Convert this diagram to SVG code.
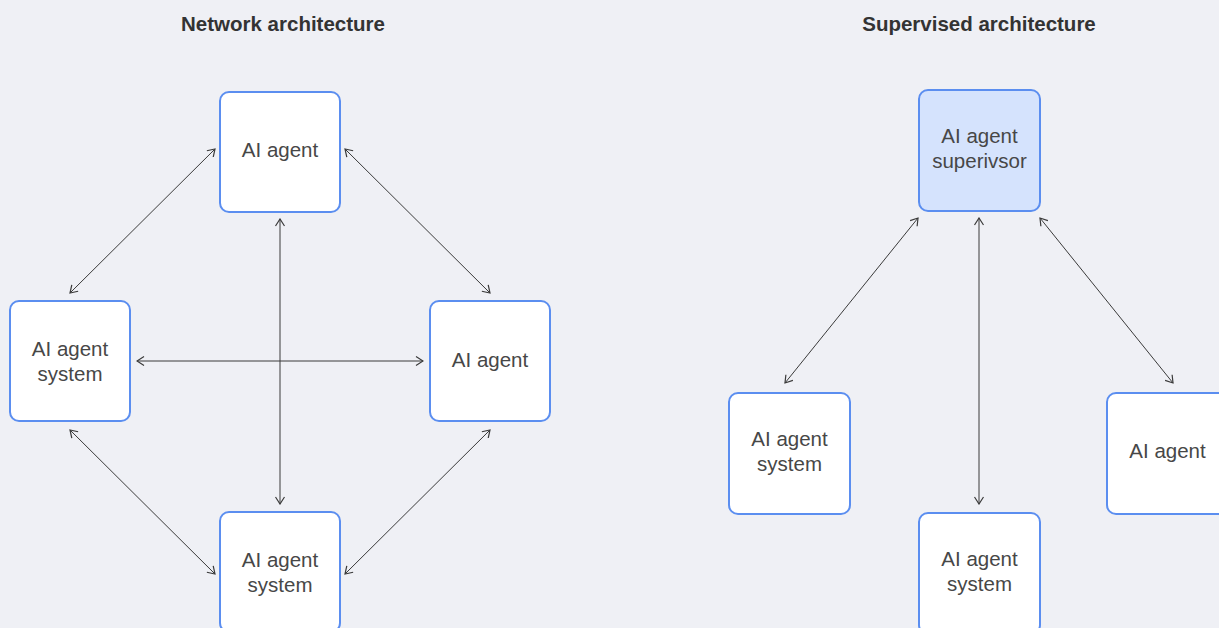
<svg xmlns="http://www.w3.org/2000/svg" width="1219" height="628" viewBox="0 0 1219 628">
  <style>
    .title { font-family: "Liberation Sans", Arial, sans-serif; font-size: 20.5px; font-weight: bold; fill: #333333; text-anchor: middle; }
    .box { fill: #ffffff; stroke: #5b8ef0; stroke-width: 2; }
    .box.sup { fill: #d5e3fd; }
    .label { font-family: "Liberation Sans", Arial, sans-serif; font-size: 20.5px; fill: #474747; text-anchor: middle; }
    .link { stroke: #3a3a3a; stroke-width: 1; fill: none; marker-start: url(#head); marker-end: url(#head); }
  </style>
  <defs>
    <marker id="head" viewBox="0 0 10 10" refX="9" refY="5" markerWidth="10" markerHeight="10" markerUnits="userSpaceOnUse" orient="auto-start-reverse">
      <path d="M2,0.5 L9,5 L2,9.5" fill="none" stroke="#3a3a3a" stroke-width="1.2"/>
    </marker>
  </defs>
  <rect width="1219" height="628" fill="#eff0f5"/>

  <text class="title" x="283" y="31">Network architecture</text>
  <text class="title" x="979" y="31">Supervised architecture</text>

  <g id="connectors">
    <!-- network architecture -->
    <line class="link" x1="70" y1="293" x2="215" y2="149"/>
    <line class="link" x1="345" y1="149" x2="490" y2="293"/>
    <line class="link" x1="70" y1="430" x2="215" y2="574"/>
    <line class="link" x1="490" y1="430" x2="345" y2="574"/>
    <line class="link" x1="280" y1="219" x2="280" y2="504"/>
    <line class="link" x1="137" y1="361" x2="423" y2="361"/>
    <!-- supervised architecture -->
    <line class="link" x1="918" y1="218" x2="785" y2="383"/>
    <line class="link" x1="979" y1="218" x2="979" y2="504"/>
    <line class="link" x1="1040" y1="218" x2="1173" y2="383"/>
  </g>

  <g id="net-top">
    <rect class="box" x="220" y="92" width="120" height="120" rx="9"/>
    <text class="label" x="280" y="157">AI agent</text>
  </g>
  <g id="net-left">
    <rect class="box" x="10" y="301" width="120" height="120" rx="9"/>
    <text class="label" x="70" y="356">AI agent</text>
    <text class="label" x="70" y="381">system</text>
  </g>
  <g id="net-right">
    <rect class="box" x="430" y="301" width="120" height="120" rx="9"/>
    <text class="label" x="490" y="367">AI agent</text>
  </g>
  <g id="net-bottom">
    <rect class="box" x="220" y="512" width="120" height="120" rx="9"/>
    <text class="label" x="280" y="567">AI agent</text>
    <text class="label" x="280" y="592">system</text>
  </g>

  <g id="sup-supervisor">
    <rect class="box sup" x="919" y="90" width="121" height="121" rx="9"/>
    <text class="label" x="979.5" y="143">AI agent</text>
    <text class="label" x="979.5" y="168">superivsor</text>
  </g>
  <g id="sup-left">
    <rect class="box" x="729" y="393" width="121" height="121" rx="9"/>
    <text class="label" x="789.5" y="446">AI agent</text>
    <text class="label" x="789.5" y="471">system</text>
  </g>
  <g id="sup-bottom">
    <rect class="box" x="919" y="513" width="121" height="121" rx="9"/>
    <text class="label" x="979.5" y="566">AI agent</text>
    <text class="label" x="979.5" y="591">system</text>
  </g>
  <g id="sup-right">
    <rect class="box" x="1107" y="393" width="121" height="121" rx="9"/>
    <text class="label" x="1167.5" y="458">AI agent</text>
  </g>
</svg>
